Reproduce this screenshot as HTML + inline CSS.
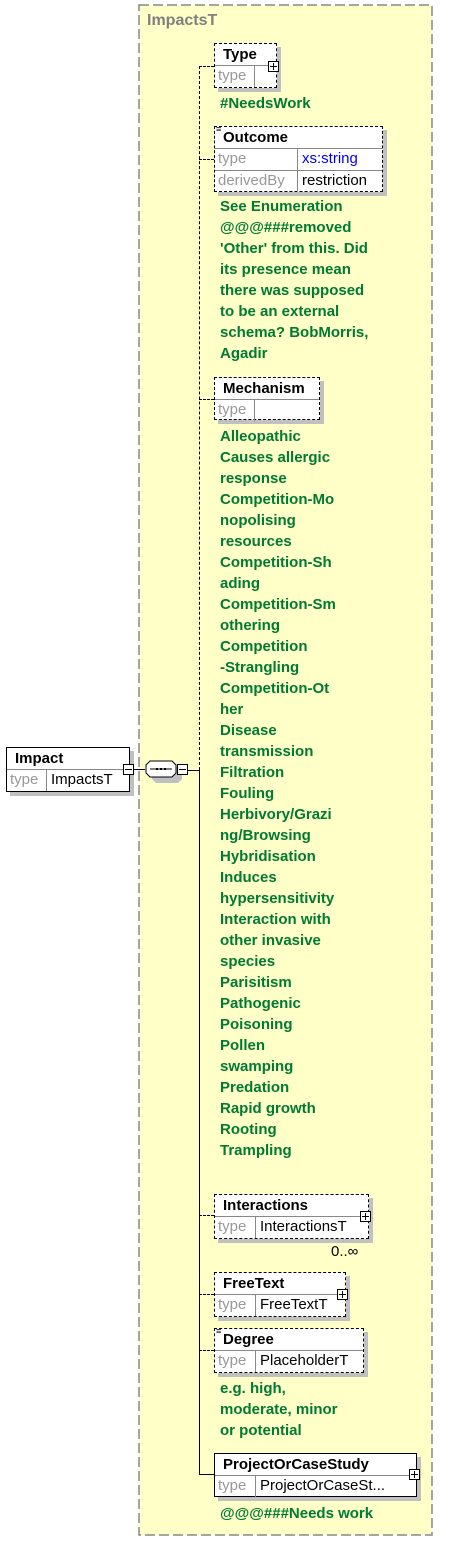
<!DOCTYPE html>
<html><head><style>
body{margin:0;width:450px;height:1541px;background:#fff;position:relative;font-family:"Liberation Sans",sans-serif;overflow:hidden}
.a{position:absolute}
.outer{left:139px;top:5px;width:293px;height:1530px;background:#ffffc8}
.box{position:absolute;background:#fff;border:1px dashed #000;box-shadow:4px 4px 0 #c0c0c0}
.solid{border-style:solid}
.h{height:22px;line-height:22px;font-weight:bold;font-size:15px;padding-left:8px;border-bottom:1px solid #888;box-sizing:border-box}
.r{height:21px;line-height:20px;font-size:15px;display:flex;white-space:nowrap;overflow:hidden}
.r+.r{border-top:1px solid #888}
.k{color:#999;padding-left:3px;border-right:1px solid #888;box-sizing:border-box}
.v{padding-left:4px}
.g{position:absolute;left:220px;color:#007a33;font-weight:bold;font-size:15px;line-height:21px;white-space:pre}
.pl{position:absolute;width:9px;height:9px;border:1px solid #000;background:#fff}
.pl:before{content:"";position:absolute;left:1px;right:1px;top:4px;height:1px;background:#000}
.pl.p:after{content:"";position:absolute;top:1px;bottom:1px;left:4px;width:1px;background:#000}
.dl{position:absolute;border-top:1px dashed #000;height:0}
</style></head><body>
<div class="a outer"></div>
<svg class="a" style="left:138px;top:4px" width="296" height="1533"><rect x="1" y="1" width="293" height="1530" fill="none" stroke="#888" stroke-width="1.5" stroke-dasharray="10,4"/></svg>
<div class="a" style="left:147px;top:12px;font-weight:bold;font-size:16px;color:#808080">ImpactsT</div>

<div class="a" style="left:199px;top:66px;height:704px;border-left:1px dashed #000"></div>
<div class="a" style="left:199px;top:770px;height:704px;border-left:1px solid #000"></div>
<div class="a" style="left:199px;top:1474px;width:15px;border-top:1px solid #000"></div>

<div class="dl" style="left:199px;top:66px;width:15px"></div>
<div class="dl" style="left:199px;top:159px;width:15px"></div>
<div class="dl" style="left:199px;top:399px;width:15px"></div>
<div class="dl" style="left:199px;top:1215px;width:15px"></div>
<div class="dl" style="left:199px;top:1294px;width:15px"></div>
<div class="dl" style="left:199px;top:1350px;width:15px"></div>

<div class="box solid" style="left:6px;top:747px;width:122px;height:43px">
<div class="h">Impact</div><div class="r"><span class="k" style="width:40px">type</span><span class="v">ImpactsT</span></div></div>
<div class="pl" style="left:123px;top:764px"></div>
<div class="a" style="left:134px;top:769px;width:11px;border-top:1px solid #000"></div>
<svg class="a" style="left:144px;top:759px" width="40" height="28">
<polygon points="9,5 31,5 35,9 35,17 31,21 9,21 5,17 5,9" fill="#c0c0c0" transform="translate(3,3)"/>
<polygon points="6,2 28,2 32,6 32,14 28,18 6,18 2,14 2,6" fill="#fff" stroke="#000"/>
<line x1="6" y1="10" x2="28" y2="10" stroke="#000"/>
<rect x="12" y="9" width="2" height="2"/><rect x="16" y="9" width="2" height="2"/><rect x="20" y="9" width="2" height="2"/>
</svg>
<div class="pl" style="left:177px;top:764px"></div>
<div class="a" style="left:188px;top:770px;width:11px;border-top:1px solid #000"></div>

<div class="box" style="left:214px;top:43px;width:61px;height:43px">
<div class="h">Type</div><div class="r"><span class="k" style="width:40px">type</span></div></div>
<div class="pl p" style="left:268px;top:61px"></div>
<div class="g" style="top:93px">#NeedsWork</div>

<div class="box" style="left:214px;top:126px;width:167px;height:64px">
<div class="h">Outcome</div>
<div class="r"><span class="k" style="width:83px">type</span><span class="v" style="color:#0000ee">xs:string</span></div>
<div class="r"><span class="k" style="width:83px">derivedBy</span><span class="v">restriction</span></div></div>
<div class="a" style="left:216px;top:127px;font-size:9px;line-height:4px">≡</div>
<div class="g" style="top:196px">See Enumeration
@@@###removed
'Other' from this. Did
its presence mean
there was supposed
to be an external
schema? BobMorris,
Agadir</div>

<div class="box" style="left:214px;top:377px;width:104px;height:41px">
<div class="h">Mechanism</div><div class="r"><span class="k" style="width:40px">type</span></div></div>
<div class="g" style="top:426px">Alleopathic
Causes allergic
response
Competition-Mo
nopolising
resources
Competition-Sh
ading
Competition-Sm
othering
Competition
-Strangling
Competition-Ot
her
Disease
transmission
Filtration
Fouling
Herbivory/Grazi
ng/Browsing
Hybridisation
Induces
hypersensitivity
Interaction with
other invasive
species
Parisitism
Pathogenic
Poisoning
Pollen
swamping
Predation
Rapid growth
Rooting
Trampling</div>

<div class="box" style="left:214px;top:1194px;width:153px;height:43px">
<div class="h">Interactions</div><div class="r"><span class="k" style="width:41px">type</span><span class="v">InteractionsT</span></div></div>
<div class="pl p" style="left:360px;top:1211px"></div>
<div class="a" style="left:331px;top:1243px;font-size:15px">0..∞</div>

<div class="box" style="left:214px;top:1272px;width:130px;height:43px">
<div class="h">FreeText</div><div class="r"><span class="k" style="width:41px">type</span><span class="v">FreeTextT</span></div></div>
<div class="pl p" style="left:337px;top:1289px"></div>

<div class="box" style="left:214px;top:1328px;width:148px;height:43px">
<div class="h">Degree</div><div class="r"><span class="k" style="width:41px">type</span><span class="v">PlaceholderT</span></div></div>
<div class="a" style="left:216px;top:1329px;font-size:9px;line-height:4px">≡</div>
<div class="g" style="top:1378px">e.g. high,
moderate, minor
or potential</div>

<div class="box solid" style="left:214px;top:1453px;width:201px;height:42px">
<div class="h">ProjectOrCaseStudy</div><div class="r"><span class="k" style="width:41px">type</span><span class="v">ProjectOrCaseSt...</span></div></div>
<div class="pl p" style="left:409px;top:1469px"></div>
<div class="g" style="top:1503px">@@@###Needs work</div>
</body></html>
